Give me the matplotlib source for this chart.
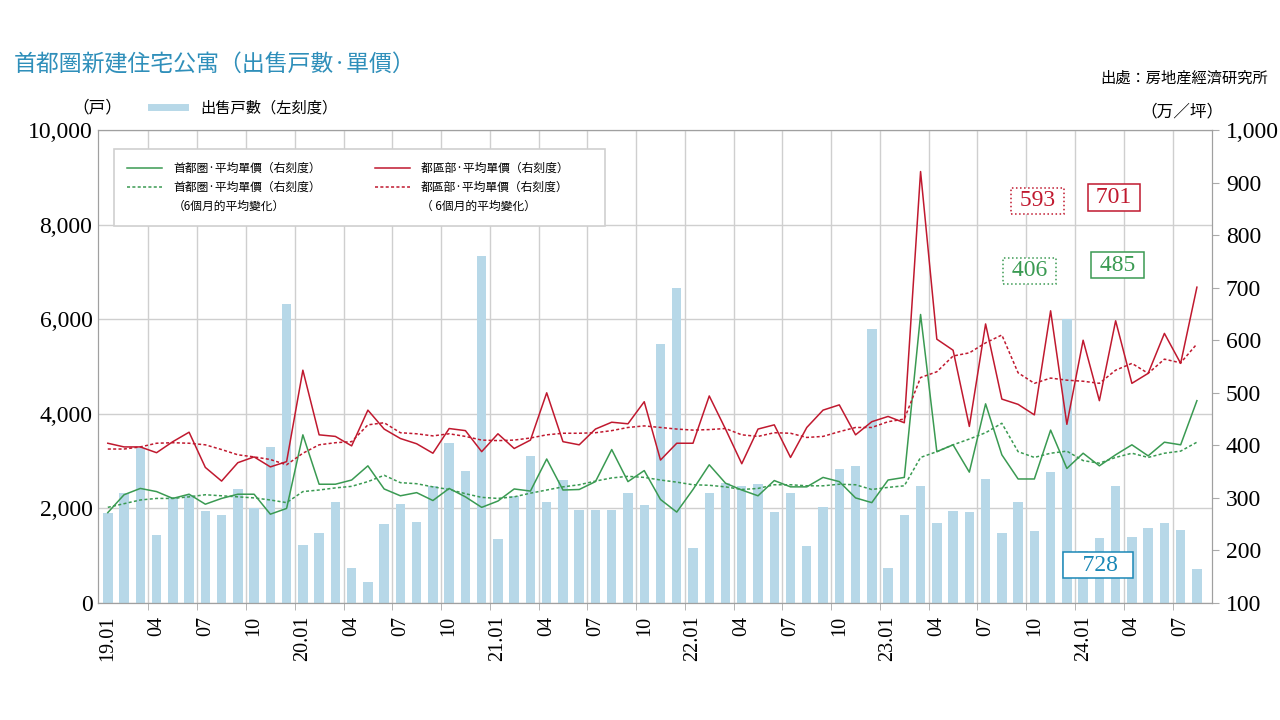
import numpy as np
import matplotlib.pyplot as plt
from matplotlib.lines import Line2D

# monthly, 2019.01 - 2024.08
units = [1900, 2320, 3270, 1430, 2250, 2290, 1950, 1860, 2400, 2000, 3290, 6330,
         1230, 1490, 2130, 750, 450, 1670, 2100, 1710, 2470, 3390, 2790, 7340,
         1350, 2260, 3110, 2130, 2610, 1970, 1970, 1970, 2320, 2070, 5470, 6650,
         1170, 2320, 2530, 2470, 2520, 1930, 2320, 1210, 2040, 2830, 2900, 5790,
         750, 1860, 2480, 1690, 1950, 1920, 2620, 1490, 2130, 1520, 2760, 6000,
         1100, 1370, 2470, 1400, 1580, 1690, 1540, 728]

shuto_price = [272, 306, 318, 312, 299, 307, 288, 299, 307, 307, 269, 280,
               420, 326, 326, 334, 361, 317, 304, 310, 295, 318, 302, 282,
               294, 317, 313, 374, 315, 316, 331, 392, 331, 352, 297, 273,
               316, 363, 328, 315, 304, 333, 321, 321, 339, 331, 300, 291,
               334, 339, 649, 388, 401, 349, 479, 382, 336, 336, 429, 356,
               385, 361, 382, 401, 380, 406, 401, 485]
shuto_avg6 = [282, 289, 296, 299, 299, 302, 306, 304, 302, 300, 296, 291,
              312, 315, 319, 322, 331, 343, 329, 327, 321, 316, 308, 301,
              299, 302, 309, 315, 321, 325, 332, 338, 341, 339, 334, 330,
              325, 324, 321, 316, 318, 325, 325, 323, 323, 326, 325, 316,
              320, 323, 377, 388, 401, 412, 424, 442, 388, 377, 385, 389,
              371, 366, 377, 385, 377, 385, 389, 406]
ku_price = [404, 397, 397, 386, 407, 425, 358, 332, 367, 378, 359, 369,
            543, 420, 417, 399, 467, 431, 413, 403, 385, 432, 428, 388,
            422, 394, 410, 500, 407, 401, 431, 444, 441, 483, 372, 404,
            404, 494, 431, 365, 431, 439, 377, 434, 467, 477, 420, 445,
            455, 443, 921, 602, 581, 436, 631, 488, 478, 458, 656, 440,
            600, 485, 637, 518, 537, 613, 556, 701]
ku_avg6 = [393, 393, 397, 404, 405, 404, 401, 392, 382, 378, 373, 363,
           385, 401, 405, 407, 439, 443, 424, 422, 418, 422, 417, 410,
           409, 410, 414, 420, 423, 423, 424, 428, 434, 437, 434, 431,
           429, 430, 432, 420, 417, 424, 423, 415, 417, 426, 434, 434,
           445, 450, 529, 540, 570, 576, 595, 610, 538, 518, 528, 524,
           522, 518, 543, 556, 537, 564, 557, 593]

tick_labels = ['19.01', '04', '07', '10', '20.01', '04', '07', '10',
               '21.01', '04', '07', '10', '22.01', '04', '07', '10',
               '23.01', '04', '07', '10', '24.01', '04', '07']

bar_c = '#b7d8e8'
green = '#3a9a52'
red = '#c0192f'
blue = '#1b88b6'
serif = 'Liberation Serif'
dots = (0, (2, 1.5))

plt.rcParams['font.family'] = ['Noto Sans CJK JP', 'DejaVu Sans']

x = np.arange(len(units))
fig = plt.figure(figsize=(12.8, 7.2), dpi=100)
ax = fig.add_axes([0.0766, 0.1625, 0.8703, 0.6569])

ax.bar(x, units, width=0.58, color=bar_c, zorder=2)
ax.set_xlim(-0.6, 67.93)
ax.set_ylim(0, 10000)
yt = list(range(0, 10001, 2000))
ax.set_yticks(yt)
ax.set_yticklabels([f'{v:,}' for v in yt], fontfamily=serif, fontsize=17)
ax.set_xticks(x[::3])
ax.set_xticklabels(tick_labels, rotation=90, fontfamily=serif, fontsize=14.5)
ax.set_xticks(np.arange(2.5, 67, 3), minor=True)
ax.tick_params(axis='x', which='major', length=0, pad=9)
ax.tick_params(axis='x', which='minor', length=5, color='#aaaaaa')
ax.tick_params(axis='y', length=0, pad=4)
ax.grid(True, axis='y', color='#cfcfcf', lw=1)
ax.grid(True, axis='x', which='minor', color='#cfcfcf', lw=1)
ax.set_axisbelow(True)
for s in ax.spines.values():
    s.set_color('#a0a0a0')
ax.spines['bottom'].set_color('#888888')

ax2 = ax.twinx()
ax2.plot(x, shuto_price, color=green, lw=1.1)
ax2.plot(x, shuto_avg6, color=green, lw=1.1, ls=dots)
ax2.plot(x, ku_price, color=red, lw=1.1)
ax2.plot(x, ku_avg6, color=red, lw=1.1, ls=dots)
ax2.set_ylim(100, 1000)
rt = list(range(100, 1001, 100))
ax2.set_yticks(rt)
ax2.set_yticklabels([f'{v:,}' for v in rt], fontfamily=serif, fontsize=17)
ax2.tick_params(axis='y', length=5, color='#aaaaaa', pad=5)
for s in ax2.spines.values():
    s.set_color('#a0a0a0')

# latest value boxes
def box(xp, yp, txt, col, ls='-'):
    ax2.text(xp, yp, ' ' + txt + ' ', color=col, fontsize=17, fontfamily=serif,
             ha='center', va='center', zorder=5,
             bbox=dict(boxstyle='square,pad=0.12', fc='white', ec=col, lw=1.1, ls=ls))

box(57.2, 865, str(ku_avg6[-1]), red, ':')
box(61.9, 872, str(ku_price[-1]), red)
box(56.7, 732, str(shuto_avg6[-1]), green, ':')
box(62.1, 743, str(shuto_price[-1]), green)
box(60.9, 172, '  ' + str(units[-1]) + ' ', blue)

# legend for price lines
handles = [Line2D([], [], color=green, lw=1.1),
           Line2D([], [], color=green, lw=1.1, ls=dots),
           Line2D([], [], color='none'),
           Line2D([], [], color=red, lw=1.1),
           Line2D([], [], color=red, lw=1.1, ls=dots),
           Line2D([], [], color='none')]
labels = ['首都圏·平均單價（右刻度）', '首都圏·平均單價（右刻度）', '（6個月的平均變化）',
          '都區部·平均單價（右刻度）　　', '都區部·平均單價（右刻度）', '（ 6個月的平均變化）']
leg = ax2.legend(handles, labels, ncol=2, loc='upper left', bbox_to_anchor=(0.009, 0.9725),
                 fontsize=8.5, frameon=True, fancybox=False, edgecolor='#d0d0d0',
                 framealpha=1, borderpad=1.1, labelspacing=0.5, handlelength=3.0,
                 handletextpad=0.9, columnspacing=4.6)
leg.get_frame().set_linewidth(1.2)

# legend for bars
fig.legend([Line2D([], [], color=bar_c, lw=5)], ['出售戸數（左刻度）'],
           loc='center left', bbox_to_anchor=(0.112, 1 - 108 / 720), frameon=False,
           fontsize=11, handlelength=2.2, handletextpad=1.0, borderpad=0)

fig.text(14 / 1280, 1 - 65 / 720, '首都圏新建住宅公寓（出售戸數·單價）',
         fontsize=16.5, color='#2f8fba', va='center')
fig.text(1268 / 1280, 1 - 78 / 720, '出處：房地産經濟研究所', fontsize=11,
         ha='right', va='center')
fig.text(97 / 1280, 1 - 108 / 720, '（戸）', fontsize=12, ha='center', va='center')
fig.text(1182 / 1280, 1 - 112 / 720, '（万／坪）', fontsize=12, ha='center', va='center')

fig.savefig('out.png', dpi=100)
